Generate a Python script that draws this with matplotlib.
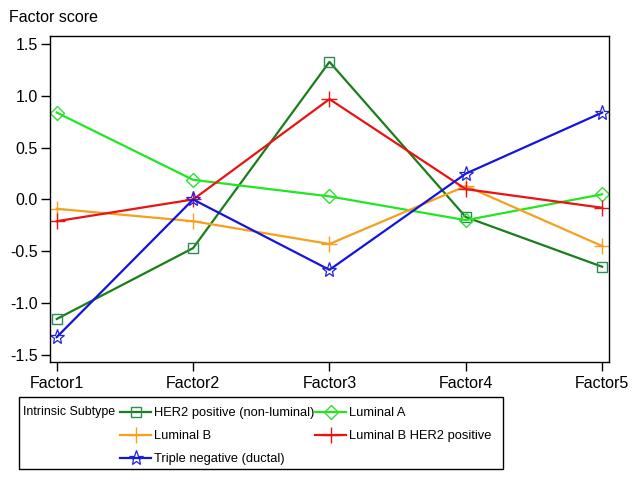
import matplotlib
matplotlib.use('Agg')
from matplotlib import pyplot as plt
from matplotlib.patches import Rectangle

plt.rcParams['font.family'] = ['Liberation Sans', 'DejaVu Sans']

factors = ['Factor1', 'Factor2', 'Factor3', 'Factor4', 'Factor5']
her2_nonlum = [-1.155, -0.47, 1.33, -0.17, -0.65]
luminal_a = [0.84, 0.19, 0.03, -0.20, 0.05]
luminal_b = [-0.09, -0.21, -0.43, 0.13, -0.45]
luminal_b_her2 = [-0.21, 0.0, 0.97, 0.10, -0.08]
triple_neg = [-1.33, 0.0, -0.68, 0.25, 0.84]

yticks = [-1.5, -1.0, -0.5, 0.0, 0.5, 1.0, 1.5]

fig = plt.figure(figsize=(6.39, 4.8), dpi=100)
ax = fig.add_axes([0.0775, 0.246, 0.8755, 0.679])

x = range(len(factors))
l_her2, = ax.plot(x, her2_nonlum, color='#1a7f1a', lw=1.6, marker='s',
                  ms=7, mfc='none', mec='#2e8b57', mew=1.0,
                  label='HER2 positive (non-luminal)')
l_luma, = ax.plot(x, luminal_a, color='#22e622', lw=1.6, marker='D',
                  ms=7, mfc='none', mec='#33dd33', mew=1.0,
                  label='Luminal A')
l_lumb, = ax.plot(x, luminal_b, color='#f5a01e', lw=1.6, marker='+',
                  ms=11, mec='#f5a01e', mew=1.0, label='Luminal B')
l_lumbh, = ax.plot(x, luminal_b_her2, color='#e81414', lw=1.6, marker='+',
                   ms=11, mec='#e81414', mew=1.0,
                   label='Luminal B HER2 positive')
l_tn, = ax.plot(x, triple_neg, color='#1414dc', lw=1.6, marker='*',
                ms=11, mfc='none', mec='#2020e0', mew=0.9,
                label='Triple negative (ductal)')

ax.set_xlim(-0.053, 4.05)
ax.set_ylim(-1.57, 1.58)
ax.set_xticks(list(x))
ax.set_xticklabels(factors)
ax.set_yticks(yticks)
ax.set_yticklabels(['%.1f' % v for v in yticks])
ax.tick_params(axis='both', direction='out', length=6.5, width=1,
               labelsize=11.5, top=False, right=False)
ax.tick_params(axis='x', pad=3.5)
ax.tick_params(axis='y', pad=2)
for s in ax.spines.values():
    s.set_linewidth(1.0)

fig.text(9 / 639, 1 - 18 / 480, 'Factor score', fontsize=11.5,
         ha='left', va='center')

# legend box with inline title
fig.patches.append(Rectangle((19 / 639, 1 - 469 / 480), 484 / 639, 72 / 480,
                             transform=fig.transFigure, fill=False,
                             edgecolor='black', lw=1.0))
fig.text(23 / 639, 1 - 411.5 / 480, 'Intrinsic Subtype', fontsize=8.9,
         ha='left', va='center')
leg = fig.legend(handles=[l_her2, l_lumb, l_tn, l_luma, l_lumbh],
                 ncol=2, loc='upper left',
                 bbox_to_anchor=(120 / 639, 1 - 407 / 480),
                 frameon=False, fontsize=9.3, handlelength=2.4,
                 handletextpad=0.2, columnspacing=0.1, labelspacing=0.85,
                 borderpad=0, borderaxespad=0)

fig.savefig('out.png', dpi=100)
